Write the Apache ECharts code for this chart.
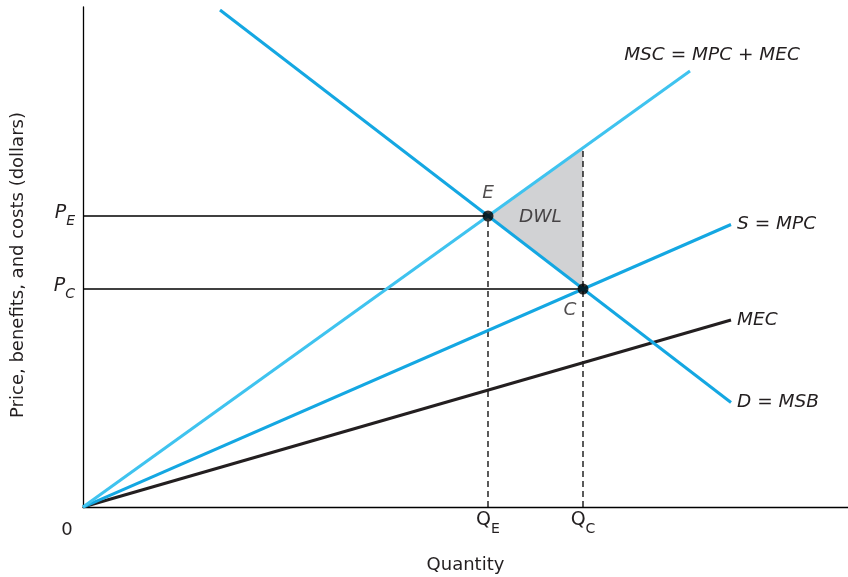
<!DOCTYPE html>
<html>
<head>
<meta charset="utf-8">
<script src="https://cdn.jsdelivr.net/npm/echarts@6/dist/echarts.min.js"></script>
<style>
  html, body { margin: 0; padding: 0; background: #fff; }
  #chart { width: 848px; height: 577px; }
</style>
</head>
<body>
<div id="chart"></div>
<script>
// Equilibrium quantities and prices
const QE = 8.1;   // market equilibrium quantity
const QC = 10;    // efficient quantity
const PE = 5.82;  // market equilibrium price
const PC = 4.36;  // efficient price

// Curve endpoints (quantity, dollars)
const demandMSB = [[2.74, 9.94], [12.96, 2.09]];
const supplyMSC = [[0, 0], [12.14, 8.72]];
const supplyMPC = [[0, 0], [12.96, 5.65]];
const costMEC   = [[0, 0], [12.96, 3.74]];
const mscAtQC = 7.18;

// Deadweight loss triangle
const dwlTriangle = [[QE, PE], [QC, mscAtQC], [QC, PC]];

// Curve names shown at the line ends
const curveNames = {
  msb: 'D = MSB',
  msc: 'MSC = MPC + MEC',
  mpc: 'S = MPC',
  mec: 'MEC'
};

const FONT = 'DejaVu Sans';
const DARK_BLUE = '#14a7e2';
const LIGHT_BLUE = '#3fc3ef';
const INK = '#231f20';

function endLabel(text, extra) {
  return Object.assign({
    show: true,
    formatter: text,
    position: 'right',
    distance: 6,
    fontFamily: FONT,
    fontStyle: 'italic',
    fontSize: 18.5,
    color: INK
  }, extra || {});
}

function curve(points, color, name, labelOpts, z) {
  return {
    type: 'line',
    data: points.map((p, i) => i === points.length - 1
      ? { value: p, label: endLabel(name, labelOpts) }
      : { value: p }),
    showSymbol: true,
    symbol: 'circle',
    symbolSize: 0.01,
    itemStyle: { color: color },
    lineStyle: { color: color, width: 3 },
    z: z || 3,
    silent: true
  };
}

function guide(points, dashed) {
  return {
    type: 'line',
    data: points,
    symbol: 'none',
    lineStyle: { color: '#000', width: 1.3, type: dashed ? [6, 4] : 'solid' },
    z: 2,
    silent: true
  };
}

const chart = echarts.init(document.getElementById('chart'), null, { renderer: 'canvas' });

const textBase = { fontFamily: FONT, color: INK };

const option = {
  animation: false,
  backgroundColor: '#ffffff',
  grid: { left: 83, right: 0, top: 7, bottom: 70, containLabel: false, outerBoundsMode: 'none' },
  xAxis: {
    type: 'value',
    min: 0,
    max: 15.3,
    name: 'Quantity',
    nameLocation: 'middle',
    nameGap: 49,
    nameTextStyle: Object.assign({ fontSize: 18 }, textBase),
    axisLine: { show: true, onZero: false, lineStyle: { color: '#000', width: 1.3 } },
    axisTick: { show: false },
    splitLine: { show: false },
    axisLabel: {
      customValues: [0, QE, QC],
      margin: 4,
      formatter: function (v) {
        if (v === 0) return '{z|0}';
        return v === QE ? '{q|Q}{s|E}' : '{q|Q}{s|C}';
      },
      rich: {
        z: Object.assign({ fontSize: 18, padding: [10, 32, 0, 0] }, textBase),
        q: Object.assign({ fontSize: 19, verticalAlign: 'bottom', padding: [0, 0, 6, 0] }, textBase),
        s: Object.assign({ fontSize: 14, verticalAlign: 'bottom' }, textBase)
      }
    }
  },
  yAxis: {
    type: 'value',
    min: 0,
    max: 10,
    name: 'Price, benefits, and costs (dollars)',
    nameLocation: 'middle',
    nameGap: 56,
    nameTextStyle: Object.assign({ fontSize: 18, padding: [0, 16, 0, 0] }, textBase),
    axisLine: { show: true, onZero: false, lineStyle: { color: '#000', width: 1.3 } },
    axisTick: { show: false },
    splitLine: { show: false },
    axisLabel: {
      customValues: [PC, PE],
      margin: 8,
      formatter: function (v) {
        return v === PE ? '{p|P}{s|E}' : '{p|P}{s|C}';
      },
      rich: {
        p: Object.assign({ fontStyle: 'italic', fontSize: 19, verticalAlign: 'bottom', padding: [0, 0, 6, 0] }, textBase),
        s: Object.assign({ fontStyle: 'italic', fontSize: 14, verticalAlign: 'bottom' }, textBase)
      }
    }
  },
  series: [
    {
      type: 'custom',
      data: [[QE, PE]],
      z: 1,
      silent: true,
      renderItem: function (params, api) {
        return {
          type: 'polygon',
          shape: { points: dwlTriangle.map(p => api.coord(p)) },
          style: { fill: '#d1d2d4' }
        };
      }
    },
    guide([[0, PE], [QE, PE]], false),
    guide([[0, PC], [QC, PC]], false),
    guide([[QE, 0], [QE, PE]], true),
    guide([[QC, 0], [QC, mscAtQC]], true),
    curve(costMEC, INK, curveNames.mec, null, 3),
    curve(supplyMPC, DARK_BLUE, curveNames.mpc, null, 4),
    curve(supplyMSC, LIGHT_BLUE, curveNames.msc, { position: 'top', distance: 6, offset: [22, 0] }, 4),
    curve(demandMSB, DARK_BLUE, curveNames.msb, null, 5),
    {
      type: 'scatter',
      data: [
        { value: [QE, PE], label: { formatter: 'E', position: 'top', distance: 8 } },
        { value: [QC, PC], label: { formatter: 'C', position: 'bottom', distance: 6, offset: [-13, 0] } }
      ],
      symbolSize: 11,
      itemStyle: { color: '#000' },
      label: Object.assign({ show: true, fontStyle: 'italic', fontSize: 18.5 }, textBase),
      z: 6,
      silent: true
    },
    {
      type: 'scatter',
      data: [{ value: [(QE + QC + QC) / 3, (PE + mscAtQC + PC) / 3] }],
      symbolSize: 0,
      label: Object.assign({
        show: true,
        formatter: 'DWL',
        position: 'inside',
        offset: [-11, 0],
        fontStyle: 'italic',
        fontSize: 18.5
      }, textBase),
      z: 6,
      silent: true
    }
  ]
};

chart.setOption(option);
</script>
</body>
</html>
